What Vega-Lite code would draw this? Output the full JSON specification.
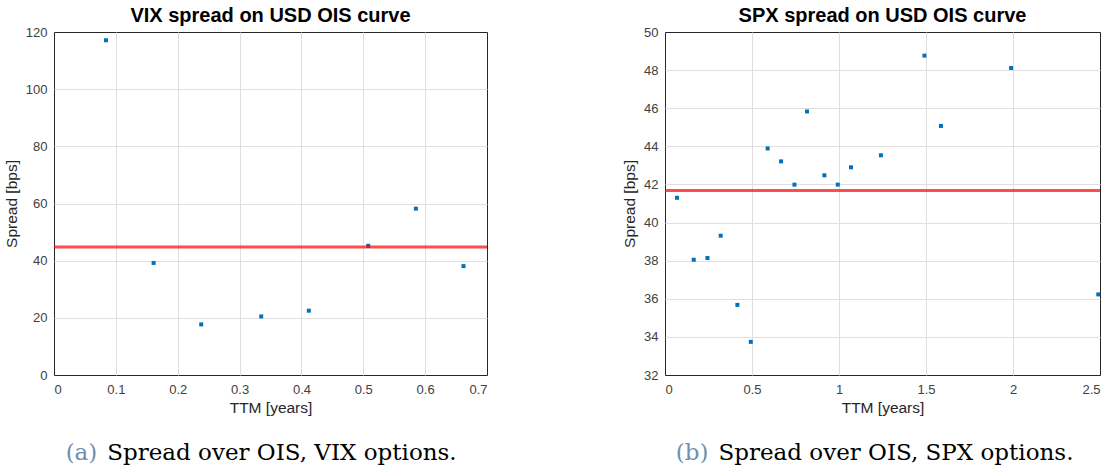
{
  "$schema": "https://vega.github.io/schema/vega-lite/v6.json",
  "background": "white",
  "padding": {"left": 3, "top": 5, "right": 5, "bottom": 0},
  "datasets": {
    "vix": [
      {"ttm": 0.084, "spread": 117.1},
      {"ttm": 0.161, "spread": 39.2},
      {"ttm": 0.238, "spread": 17.7},
      {"ttm": 0.335, "spread": 20.5},
      {"ttm": 0.412, "spread": 22.5},
      {"ttm": 0.508, "spread": 45.2},
      {"ttm": 0.585, "spread": 58.2},
      {"ttm": 0.662, "spread": 38.1}
    ],
    "spx": [
      {"ttm": 0.069, "spread": 41.3},
      {"ttm": 0.165, "spread": 38.05},
      {"ttm": 0.244, "spread": 38.14},
      {"ttm": 0.32, "spread": 39.31},
      {"ttm": 0.416, "spread": 35.68},
      {"ttm": 0.493, "spread": 33.74},
      {"ttm": 0.59, "spread": 43.89},
      {"ttm": 0.667, "spread": 43.21},
      {"ttm": 0.744, "spread": 41.99},
      {"ttm": 0.816, "spread": 45.83},
      {"ttm": 0.916, "spread": 42.48},
      {"ttm": 0.993, "spread": 41.99},
      {"ttm": 1.069, "spread": 42.9},
      {"ttm": 1.241, "spread": 43.53},
      {"ttm": 1.491, "spread": 48.76},
      {"ttm": 1.586, "spread": 45.07},
      {"ttm": 1.989, "spread": 48.11},
      {"ttm": 2.49, "spread": 36.23}
    ],
    "capA": [{"tag": "(a)", "caption": "Spread over OIS, VIX options."}],
    "capB": [{"tag": "(b)", "caption": "Spread over OIS, SPX options."}]
  },
  "config": {
    "view": {"stroke": "#262626", "strokeWidth": 1},
    "axis": {
      "grid": true,
      "gridColor": "#dfdfdf",
      "gridWidth": 1,
      "domain": false,
      "ticks": false,
      "labelOverlap": false,
      "labelBound": false,
      "labelFont": "Liberation Sans",
      "labelFontSize": 13,
      "labelColor": "#404040",
      "titleFont": "Liberation Sans",
      "titleFontSize": 15.5,
      "titleFontWeight": "normal",
      "titleColor": "#262626"
    },
    "axisX": {"labelPadding": 8, "titlePadding": 4},
    "axisY": {"labelPadding": 7, "titlePadding": 6},
    "title": {"font": "Liberation Sans", "fontSize": 20, "fontWeight": "bold", "color": "#000000", "offset": 3, "dy": 3},
    "text": {"font": "DejaVu Serif", "fontSize": 23, "baseline": "middle"}
  },
  "spacing": 133,
  "hconcat": [
    {
      "spacing": 22,
      "vconcat": [
        {
          "title": "VIX spread on USD OIS curve",
          "width": 433,
          "height": 343,
          "data": {"name": "vix"},
          "layer": [
            {
              "mark": {"type": "square", "size": 16, "color": "#0072BD", "opacity": 1},
              "encoding": {
                "x": {"field": "ttm", "type": "quantitative", "title": "TTM [years]",
                      "scale": {"domain": [0, 0.7], "nice": false},
                      "axis": {"values": [0, 0.1, 0.2, 0.3, 0.4, 0.5, 0.6, 0.7], "format": "~g",
                               "gridOpacity": {"condition": {"test": "datum.value <= 0 || datum.value >= 0.7", "value": 0}, "value": 1}}},
                "y": {"field": "spread", "type": "quantitative", "title": "Spread [bps]",
                      "scale": {"domain": [0, 120], "nice": false},
                      "axis": {"values": [0, 20, 40, 60, 80, 100, 120],
                               "gridOpacity": {"condition": {"test": "datum.value <= 0 || datum.value >= 120", "value": 0}, "value": 1}}}
              }
            },
            {
              "mark": {"type": "rule", "color": "#ff0000", "strokeWidth": 3, "opacity": 0.7},
              "encoding": {"y": {"aggregate": "mean", "field": "spread", "type": "quantitative", "title": "Spread [bps]",
                                 "axis": {"values": [0, 20, 40, 60, 80, 100, 120],
                                          "gridOpacity": {"condition": {"test": "datum.value <= 0 || datum.value >= 120", "value": 0}, "value": 1}}}}
            }
          ]
        },
        {
          "width": 433,
          "height": 30,
          "view": {"stroke": null},
          "data": {"name": "capA"},
          "layer": [
            {
              "mark": {"type": "text", "align": "right", "color": "#6f8fb0"},
              "encoding": {
                "x": {"datum": 0.1, "type": "quantitative", "scale": {"domain": [0, 1]}, "axis": null},
                "text": {"field": "tag"}
              }
            },
            {
              "mark": {"type": "text", "align": "left", "color": "#000000"},
              "encoding": {
                "x": {"datum": 0.123, "type": "quantitative", "scale": {"domain": [0, 1]}, "axis": null},
                "text": {"field": "caption"}
              }
            }
          ]
        }
      ]
    },
    {
      "spacing": 22,
      "vconcat": [
        {
          "title": "SPX spread on USD OIS curve",
          "width": 435,
          "height": 343,
          "data": {"name": "spx"},
          "layer": [
            {
              "mark": {"type": "square", "size": 16, "color": "#0072BD", "opacity": 1},
              "encoding": {
                "x": {"field": "ttm", "type": "quantitative", "title": "TTM [years]",
                      "scale": {"domain": [0, 2.5], "nice": false},
                      "axis": {"values": [0, 0.5, 1, 1.5, 2, 2.5], "format": "~g",
                               "gridOpacity": {"condition": {"test": "datum.value <= 0 || datum.value >= 2.5", "value": 0}, "value": 1}}},
                "y": {"field": "spread", "type": "quantitative", "title": "Spread [bps]",
                      "scale": {"domain": [32, 50], "nice": false, "zero": false},
                      "axis": {"values": [32, 34, 36, 38, 40, 42, 44, 46, 48, 50],
                               "gridOpacity": {"condition": {"test": "datum.value <= 32 || datum.value >= 50", "value": 0}, "value": 1}}}
              }
            },
            {
              "mark": {"type": "rule", "color": "#ff0000", "strokeWidth": 3, "opacity": 0.7},
              "encoding": {"y": {"aggregate": "mean", "field": "spread", "type": "quantitative", "title": "Spread [bps]",
                                 "axis": {"values": [32, 34, 36, 38, 40, 42, 44, 46, 48, 50],
                                          "gridOpacity": {"condition": {"test": "datum.value <= 32 || datum.value >= 50", "value": 0}, "value": 1}}}}
            }
          ]
        },
        {
          "width": 435,
          "height": 30,
          "view": {"stroke": null},
          "data": {"name": "capB"},
          "layer": [
            {
              "mark": {"type": "text", "align": "right", "color": "#6f8fb0"},
              "encoding": {
                "x": {"datum": 0.1, "type": "quantitative", "scale": {"domain": [0, 1]}, "axis": null},
                "text": {"field": "tag"}
              }
            },
            {
              "mark": {"type": "text", "align": "left", "color": "#000000"},
              "encoding": {
                "x": {"datum": 0.123, "type": "quantitative", "scale": {"domain": [0, 1]}, "axis": null},
                "text": {"field": "caption"}
              }
            }
          ]
        }
      ]
    }
  ]
}
